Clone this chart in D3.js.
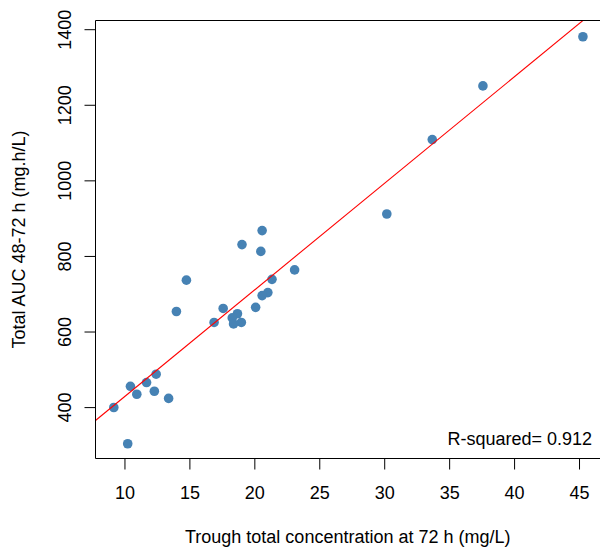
<!DOCTYPE html>
<html>
<head>
<meta charset="utf-8">
<script src="https://cdn.jsdelivr.net/npm/d3@7"></script>
<style>
  body { margin: 0; background: #fff; }
  svg { display: block; font-family: "Liberation Sans", Arial, sans-serif; }
</style>
</head>
<body>
<svg width="600" height="549"></svg>
<script>
// trough concentration (mg/L) vs total AUC 48-72 h (mg.h/L)
const trough = [45.3, 37.6, 33.7, 30.2, 20.6, 19.05, 20.5, 23.1, 14.77, 21.36,
  21.04, 20.6, 17.6, 20.1, 14.0, 18.7, 18.3, 16.9, 19.0, 18.4,
  12.44, 11.7, 10.46, 12.3, 10.95, 13.4, 9.18, 10.25];
const auc = [1380, 1250, 1108, 911, 867, 830, 812, 763, 736, 738,
  703, 695, 661, 664, 653, 647, 636, 624, 624, 620,
  487, 465, 455, 442, 434, 423, 399, 303];

const xTicks = [10, 15, 20, 25, 30, 35, 40, 45];
const yTicks = [400, 600, 800, 1000, 1200, 1400];
const xLimits = [7.77, 46.615];
const yLimits = [264, 1423];

// fitted line
const intercept = 145.5;
const slope = 28.2;
const rsqLabel = "R-squared= 0.912";

const svg = d3.select("svg");
const plotL = 95.5, plotR = 600, plotT = 20.5, plotB = 458.5;

const x = d3.scaleLinear().domain(xLimits).range([plotL, plotR]);
const y = d3.scaleLinear().domain(yLimits).range([plotB, plotT]);

svg.append("clipPath").attr("id", "plotclip")
  .append("rect").attr("x", plotL).attr("y", plotT)
  .attr("width", plotR - plotL).attr("height", plotB - plotT);

// points
svg.append("g")
  .selectAll("circle")
  .data(trough.map((t, i) => ({ t: t, a: auc[i] })))
  .enter()
  .append("circle")
  .attr("cx", d => x(d.t))
  .attr("cy", d => y(d.a))
  .attr("r", 4.8)
  .attr("fill", "#4682b4");

// regression line
svg.append("line")
  .attr("clip-path", "url(#plotclip)")
  .attr("x1", x(xLimits[0]))
  .attr("y1", y(intercept + slope * xLimits[0]))
  .attr("x2", x(xLimits[1]))
  .attr("y2", y(intercept + slope * xLimits[1]))
  .attr("stroke", "#ff0000")
  .attr("stroke-width", 1.1);

// box
svg.append("path")
  .attr("d", `M${plotR + 1},${plotT}H${plotL}V${plotB}H${plotR + 1}`)
  .attr("fill", "none")
  .attr("stroke", "#000")
  .attr("stroke-width", 1);

// x axis
const xAxis = svg.append("g")
  .attr("transform", `translate(0,${plotB})`)
  .call(d3.axisBottom(x).tickValues(xTicks).tickSize(11).tickPadding(17).tickSizeOuter(0));
xAxis.select(".domain").remove();
xAxis.selectAll("text").attr("font-size", 18).attr("fill", "#000")
  .attr("font-family", "Liberation Sans, Arial, sans-serif");

// y axis
const yAxis = svg.append("g")
  .attr("transform", `translate(${plotL},0)`)
  .call(d3.axisLeft(y).tickValues(yTicks).tickSize(11).tickFormat(d3.format("d")));
yAxis.select(".domain").remove();
yAxis.selectAll("text")
  .attr("font-size", 18).attr("fill", "#000")
  .attr("font-family", "Liberation Sans, Arial, sans-serif")
  .attr("text-anchor", "middle")
  .attr("x", null).attr("dy", null)
  .attr("transform", "translate(-25,0) rotate(-90)");

// titles
svg.append("text")
  .attr("x", (plotL + plotR) / 2)
  .attr("y", 543)
  .attr("text-anchor", "middle")
  .attr("font-size", 18)
  .text("Trough total concentration at 72 h (mg/L)");

svg.append("text")
  .attr("transform", `translate(25,${(plotT + plotB) / 2}) rotate(-90)`)
  .attr("text-anchor", "middle")
  .attr("font-size", 18)
  .text("Total AUC 48-72 h (mg.h/L)");

svg.append("text")
  .attr("x", 592)
  .attr("y", 445)
  .attr("text-anchor", "end")
  .attr("font-size", 18)
  .text(rsqLabel);
</script>
</body>
</html>
